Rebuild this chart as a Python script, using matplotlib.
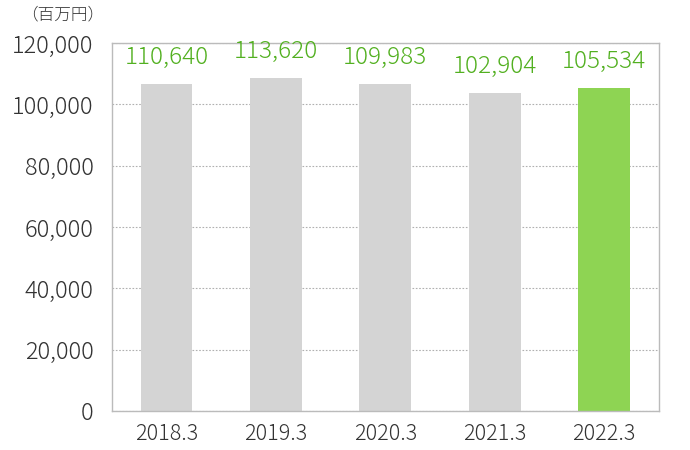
import numpy as np
import matplotlib.pyplot as plt

plt.rcParams['font.family'] = ['Noto Sans CJK JP', 'DejaVu Sans']

# 決算期と売上高（百万円）
periods = ['2018.3', '2019.3', '2020.3', '2021.3', '2022.3']
bar_values = [106600, 108800, 106800, 103900, 105400]   # 棒の高さ
value_labels = ['110,640', '113,620', '109,983', '102,904', '105,534']
bar_colors = ['#d4d4d4', '#d4d4d4', '#d4d4d4', '#d4d4d4', '#8ed453']
yticks = [0, 20000, 40000, 60000, 80000, 100000, 120000]

fig = plt.figure(figsize=(6.9, 4.5), dpi=100)
ax = fig.add_axes([0.162, 0.087, 0.793, 0.817])

x = np.arange(len(periods))
bars = ax.bar(x, bar_values, width=0.475, color=bar_colors, zorder=2)

for b, lab in zip(bars, value_labels):
    ax.annotate(lab, (b.get_x() + b.get_width() / 2, b.get_height()),
                xytext=(0, 10), textcoords='offset points',
                ha='center', va='bottom', fontsize=17.5, color='#52b020',
                fontweight='light')

ax.set_xlim(-0.5, len(periods) - 0.5)
ax.set_ylim(0, 120000)
ax.set_yticks(yticks)
ax.set_yticklabels([f'{v:,}' for v in yticks], fontsize=17, color='#333333',
                   fontweight='light')
ax.set_xticks(x)
ax.set_xticklabels(periods, fontsize=15.5, color='#333333', fontweight='light')
ax.tick_params(length=0)
ax.tick_params(axis='x', pad=9)
ax.tick_params(axis='y', pad=13)

ax.grid(axis='y', linestyle=(0, (1.5, 1.5)), color='#b0b0b0', linewidth=0.8, zorder=1)
for s in ax.spines.values():
    s.set_color('#bbbbbb')
    s.set_linewidth(1)

fig.text(0.03, 0.985, '（百万円）', fontsize=12, color='#333333', va='top',
         fontweight='light')

fig.savefig('out.png', dpi=100)
